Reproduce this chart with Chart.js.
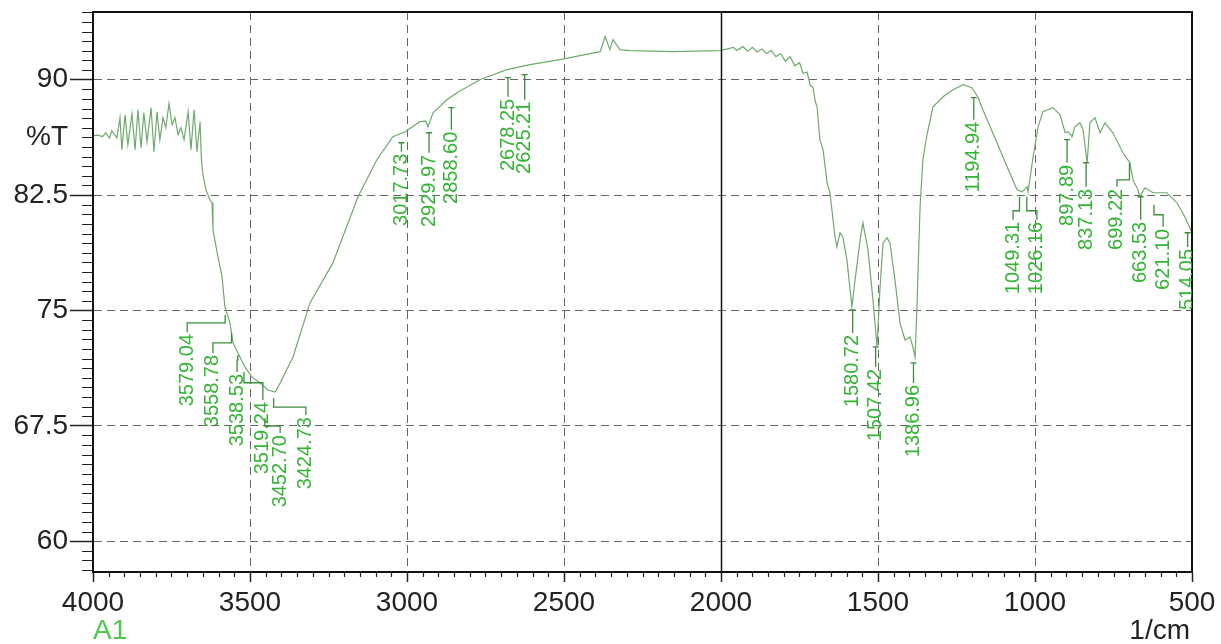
<!DOCTYPE html>
<html>
<head>
<meta charset="utf-8">
<script src="https://cdn.jsdelivr.net/npm/chart.js@4"></script>
<style>
  html, body { margin: 0; padding: 0; background: #fff; }
  #wrap { width: 1221px; height: 644px; }
</style>
</head>
<body>
<div id="wrap"><canvas id="irChart" width="1221" height="644"></canvas></div>
<script>
// spectrum (1/cm, %T)
const wavenumbers = [
  4000, 3985, 3970, 3959, 3948, 3940, 3924, 3914, 3908, 3898, 3889, 3876, 3866, 3857, 3847, 3838, 3828, 3815,
  3806, 3796, 3787, 3777, 3768, 3758, 3748, 3739, 3729, 3720, 3710, 3697, 3688, 3678, 3669, 3659,
  3655, 3650, 3640, 3628, 3621, 3618, 3602, 3589, 3580, 3564, 3554, 3532, 3516, 3494, 3468, 3443,
  3420, 3404, 3363, 3309, 3236, 3156, 3096, 3045, 3006, 2959, 2940, 2933, 2917, 2873, 2841, 2768,
  2682, 2608, 2513, 2449, 2385, 2369, 2354, 2344, 2322, 2290, 2153, 2003, 1960, 1950, 1930, 1915,
  1900, 1885, 1870, 1855, 1840, 1825, 1810, 1795, 1780, 1765, 1750, 1738, 1726, 1715, 1707, 1700,
  1694, 1685, 1675, 1662, 1653, 1637, 1631, 1621, 1612, 1599, 1583, 1573, 1557, 1548, 1532, 1516,
  1503, 1494, 1484, 1471, 1462, 1446, 1430, 1414, 1398, 1389, 1382, 1376, 1366, 1357, 1344, 1325,
  1293, 1261, 1229, 1201, 1182, 1166, 1121, 1089, 1057, 1041, 1025, 1022, 1006, 990, 975, 943,
  920, 904, 895, 882, 873, 857, 847, 834, 825, 809, 793, 777, 752, 720, 698, 688,
  672, 666, 650, 624, 580, 548, 523, 500
];
const transmittance = [
  86.36, 86.40, 86.30, 86.55, 86.20, 86.68, 86.22, 87.53, 85.45, 87.72, 85.77, 87.79, 85.45, 88.05, 85.58, 87.85, 85.97, 88.18,
  85.32, 87.92, 86.10, 87.53, 86.88, 88.44, 87.07, 87.53, 86.42, 86.88, 86.10, 87.92, 85.45, 88.05, 85.32, 87.27,
  84.90, 83.82, 82.84, 82.20, 82.00, 80.24, 78.48, 77.18, 75.23, 74.19, 72.89, 71.98, 71.33, 70.68, 70.29, 69.83,
  69.70, 70.29, 71.98, 75.49, 78.09, 82.39, 84.80, 86.29, 86.62, 87.27, 87.30, 86.94, 87.85, 88.70, 89.15, 90.00,
  90.65, 90.98, 91.30, 91.56, 91.82, 92.80, 91.95, 92.60, 91.95, 91.89, 91.82, 91.89, 92.10, 91.90, 92.15, 91.85,
  92.10, 91.80, 92.00, 91.70, 91.90, 91.50, 91.70, 91.20, 91.50, 90.90, 91.10, 90.40, 90.50, 89.60, 89.50, 88.60,
  88.24, 86.10, 85.45, 83.30, 82.65, 79.79, 79.13, 80.05, 79.79, 78.29, 75.23, 76.99, 79.59, 80.70, 78.94, 75.69,
  72.63, 76.34, 79.39, 79.72, 79.39, 76.99, 74.19, 73.08, 73.28, 72.63, 71.98, 75.23, 81.74, 84.80, 86.42, 88.24,
  88.89, 89.35, 89.67, 89.48, 88.89, 88.05, 85.90, 84.34, 82.84, 82.71, 83.04, 82.71, 84.99, 86.94, 87.92, 88.18,
  87.72, 86.55, 86.62, 86.29, 86.94, 87.20, 86.75, 84.60, 87.20, 87.53, 86.55, 87.20, 86.55, 85.25, 84.60, 83.49,
  82.84, 82.39, 82.97, 82.65, 82.65, 82.00, 81.09, 80.05
];

const xTicks = [4000, 3500, 3000, 2500, 2000, 1500, 1000, 500];
const yTicks = [60, 67.5, 75, 82.5, 90];
const yUnitTick = 86.25;   // where the %T label sits

// peak picks
const peakLabels = ['3579.04', '3558.78', '3538.53', '3519.24', '3452.70', '3424.73', '3017.73', '2929.97',
  '2858.60', '2678.25', '2625.21', '1580.72', '1507.42', '1386.96', '1194.94', '1049.31', '1026.16',
  '897.89', '837.13', '699.22', '663.53', '621.10', '514.05'];
const peakWave = [3579.04, 3558.78, 3538.53, 3519.24, 3452.70, 3424.73, 3017.73, 2929.97,
  2858.60, 2678.25, 2625.21, 1580.72, 1507.42, 1386.96, 1194.94, 1049.31, 1026.16,
  897.89, 837.13, 699.22, 663.53, 621.10, 514.05];
const peakLevel = [74.71, 73.54, 72.11, 71.0, 68.0, 69.31, 85.90, 86.55,
  88.18, 90.13, 90.33, 75.04, 72.63, 71.59, 88.83, 82.39, 82.39,
  86.10, 84.60, 84.60, 82.39, 81.87, 80.05];
// where each pick's text is put (null = straight below the peak)
const labelWave = [3700, 3618, 3541, 3459, 3404, 3322, null, null,
  null, null, null, null, null, null, null, 1070, 994,
  null, null, 739, null, 592, null];
const labelTop = [73.60, 72.24, 71.0, 69.18, 67.03, 68.2, 85.32, 85.25,
  86.75, 88.89, 88.70, 73.54, 71.33, 70.29, 87.40, 80.89, 80.89,
  84.60, 83.04, 83.04, 80.89, 80.44, 79.13];
const labelElbow = [74.19, 72.89, 71.78, 70.3, 67.49, 68.72, null, null,
  null, null, null, null, null, null, null, 81.48, 81.48,
  null, null, 83.49, null, 81.22, null];

const FONT = '"Liberation Sans", Arial, Helvetica, sans-serif';

const spectrumDecor = {
  id: 'spectrumDecor',
  afterDraw(chart) {
    const ctx = chart.ctx;
    const area = chart.chartArea;
    const x = chart.scales.x;
    const y = chart.scales.y;
    ctx.save();

    // minor ticks
    ctx.strokeStyle = '#222';
    ctx.lineWidth = 1.2;
    ctx.beginPath();
    for (let v = 4000; v >= 500; v -= 50) {
      if (v % 500 === 0) continue;
      const px = Math.round(x.getPixelForValue(v)) + 0.5;
      ctx.moveTo(px, area.bottom);
      ctx.lineTo(px, area.bottom + 5);
    }
    for (let k = 0; ; k++) {
      const v = 58.125 + k * 0.625;
      if (v > y.max) break;
      if (yTicks.some(t => Math.abs(t - v) < 1e-6)) continue;
      const py = Math.round(y.getPixelForValue(v)) + 0.5;
      ctx.moveTo(area.left - 11, py);
      ctx.lineTo(area.left, py);
    }
    ctx.stroke();

    // frame + the solid split at 2000
    ctx.strokeStyle = '#111';
    ctx.lineWidth = 2;
    ctx.strokeRect(area.left, area.top, area.right - area.left, area.bottom - area.top);
    const x2000 = Math.round(x.getPixelForValue(2000)) + 0.5;
    ctx.lineWidth = 1.5;
    ctx.beginPath();
    ctx.moveTo(x2000, area.top);
    ctx.lineTo(x2000, area.bottom);
    ctx.stroke();

    // peak picks
    ctx.save();
    ctx.beginPath();
    ctx.rect(area.left, area.top, area.right - area.left, area.bottom - area.top);
    ctx.clip();
    ctx.font = '20px ' + FONT;
    ctx.textAlign = 'right';
    ctx.textBaseline = 'middle';
    peakLabels.forEach((txt, i) => {
      const px = x.getPixelForValue(peakWave[i]);
      const py = y.getPixelForValue(peakLevel[i]);
      const tx = labelWave[i] === null ? px : x.getPixelForValue(labelWave[i]);
      const ty = y.getPixelForValue(labelTop[i]);
      ctx.strokeStyle = '#3c8c3c';
      ctx.lineWidth = 1.3;
      ctx.beginPath();
      if (labelElbow[i] === null) {
        ctx.moveTo(px - 3, py);
        ctx.lineTo(px + 3, py);
        ctx.moveTo(px, py);
        ctx.lineTo(px, ty);
      } else {
        const ey = y.getPixelForValue(labelElbow[i]);
        ctx.moveTo(px, py);
        ctx.lineTo(px, ey);
        ctx.lineTo(tx, ey);
        ctx.lineTo(tx, ty);
      }
      ctx.stroke();
      ctx.save();
      ctx.translate(tx, ty + 2);
      ctx.rotate(-Math.PI / 2);
      ctx.fillStyle = 'rgb(52,180,52)';
      ctx.fillText(txt, 0, 0);
      ctx.restore();
    });
    ctx.restore();

    // corner captions
    ctx.font = '28px ' + FONT;
    ctx.textBaseline = 'middle';
    ctx.textAlign = 'left';
    ctx.fillStyle = 'rgb(80,200,80)';
    ctx.fillText('A1', area.left, chart.height - 13);
    ctx.textAlign = 'right';
    ctx.fillStyle = '#222';
    ctx.fillText('1/cm', area.right - 2, chart.height - 13);

    ctx.restore();
  }
};

const points = wavenumbers.map((w, i) => ({ x: w, y: transmittance[i] }));

new Chart(document.getElementById('irChart'), {
  type: 'line',
  data: {
    datasets: [{
      label: 'A1',
      data: points,
      borderColor: 'rgb(110,170,110)',
      borderWidth: 1.2,
      pointRadius: 0,
      tension: 0,
      fill: false
    }]
  },
  options: {
    responsive: false,
    animation: false,
    devicePixelRatio: 1,
    layout: { padding: { top: 12, right: 29, left: 0, bottom: 0 } },
    plugins: {
      legend: { display: false },
      tooltip: { enabled: false }
    },
    scales: {
      x: {
        type: 'linear',
        reverse: true,
        min: 500,
        max: 4000,
        afterBuildTicks: scale => { scale.ticks = xTicks.map(v => ({ value: v })); },
        afterFit: scale => { scale.height = 72; scale.paddingLeft = 0; scale.paddingRight = 0; },
        ticks: {
          color: '#222',
          padding: 4,
          maxRotation: 0,
          font: { size: 28, family: FONT },
          callback: v => String(v)
        },
        grid: {
          color: c => (c.tick && [4000, 2000, 500].includes(c.tick.value)) ? 'rgba(0,0,0,0)' : '#666',
          lineWidth: 1,
          tickLength: 10,
          tickColor: '#222',
          tickWidth: 1.5,
          tickBorderDash: []
        },
        border: { display: true, color: '#111', width: 2, dash: [8, 5] }
      },
      y: {
        type: 'linear',
        min: 58,
        max: 94.4,
        afterBuildTicks: scale => { scale.ticks = yTicks.concat([yUnitTick]).map(v => ({ value: v })); },
        afterFit: scale => { scale.width = 93; scale.paddingTop = 0; scale.paddingBottom = 0; },
        ticks: {
          color: '#222',
          padding: 2,
          font: { size: 28, family: FONT, lineHeight: 0.8 },
          callback: v => v === yUnitTick ? '%T' : String(v)
        },
        grid: {
          color: c => (c.tick && c.tick.value === yUnitTick) ? 'rgba(0,0,0,0)' : '#666',
          lineWidth: 1,
          tickLength: 23,
          tickColor: c => (c.tick && c.tick.value === yUnitTick) ? 'rgba(0,0,0,0)' : '#222',
          tickWidth: 1.5,
          tickBorderDash: []
        },
        border: { display: true, color: '#111', width: 2, dash: [8, 5] }
      }
    }
  },
  plugins: [spectrumDecor]
});
</script>
</body>
</html>
